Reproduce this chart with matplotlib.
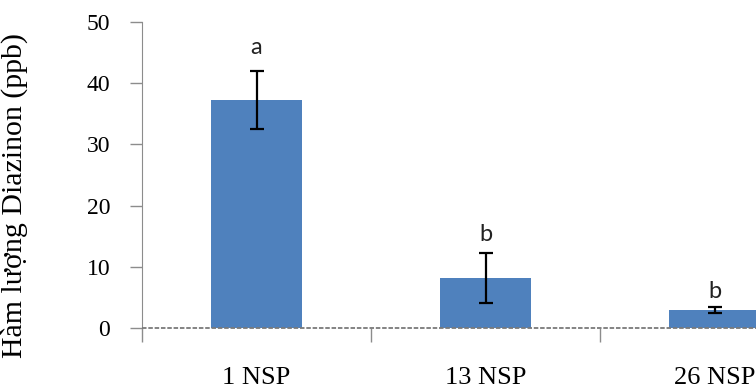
import matplotlib
matplotlib.use("Agg")
import matplotlib.pyplot as plt

categories = ["1 NSP", "13 NSP", "26 NSP"]
values = [37.25, 8.2, 2.95]
errors = [4.8, 4.05, 0.45]
letters = ["a", "b", "b"]
letter_y = [44.1, 13.6, 4.3]
yticks = [0, 10, 20, 30, 40, 50]

serif = ["Liberation Serif", "DejaVu Serif"]

fig = plt.figure(figsize=(7.56, 3.88), dpi=100)
ax = fig.add_axes([142/756, 1-328/388, (829-142)/756, (328-22)/388])

x = list(range(len(categories)))
ax.bar(x, values, width=0.4, color="#4F81BD", zorder=2)
ax.errorbar(x, values, yerr=errors, fmt="none", ecolor="black",
            elinewidth=1.6, capsize=5, capthick=1.6, zorder=3)
for xi, lt, ly in zip(x, letters, letter_y):
    ax.text(xi, ly, lt, ha="center", va="bottom", fontsize=17,
            family=["Lato", "DejaVu Sans"], color="#222222")

ax.set_xlim(-0.5, 2.5)
ax.set_ylim(0, 50)
ax.set_yticks(yticks)
ax.set_yticklabels([str(t) for t in yticks], family=serif, fontsize=17)
ax.set_xticks(x)
ax.set_xticklabels(categories, family=serif, fontsize=19)
ax.tick_params(axis="x", which="major", length=0, pad=28)
ax.set_xticks([-0.5, 0.5, 1.5, 2.5], minor=True)
ax.tick_params(axis="x", which="minor", length=10, color="#8c8c8c", width=1)
ax.tick_params(axis="y", length=9, color="#8c8c8c", width=1, pad=14)

for s in ["top", "right", "bottom"]:
    ax.spines[s].set_visible(False)
ax.spines["left"].set_color("#8c8c8c")
ax.plot([-0.5, 2.5], [0, 0], color="#7a7a7a", lw=1.3, ls=(0, (2.5, 1)),
        zorder=4, clip_on=False)

ax.set_ylabel("Hàm lượng Diazinon (ppb)", family=serif, fontsize=21.5)
ax.yaxis.set_label_coords(-(142-28)/687, (328-195)/306)

fig.savefig("out.png", dpi=100)
